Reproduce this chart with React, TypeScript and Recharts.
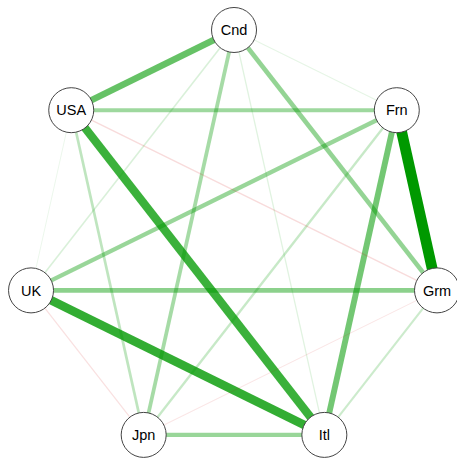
import * as React from 'react';
import { ScatterChart, Scatter, XAxis, YAxis } from 'recharts';

// node labels, in circle-layout order (clockwise from the top)
const nodes = ['Cnd', 'Frn', 'Grm', 'Itl', 'Jpn', 'UK', 'USA'];

// edge list: from, to, weight (negative = red)
const edgeFrom = ['Frn', 'UK', 'USA', 'USA', 'Frn', 'UK', 'Cnd', 'Frn', 'Jpn', 'USA', 'Cnd', 'USA', 'Frn', 'Grm', 'Cnd', 'Cnd', 'Cnd', 'USA', 'USA', 'UK', 'Jpn'];
const edgeTo = ['Grm', 'Itl', 'Itl', 'Cnd', 'Itl', 'Grm', 'Grm', 'UK', 'Itl', 'Frn', 'Jpn', 'Jpn', 'Jpn', 'Itl', 'UK', 'Itl', 'Frn', 'UK', 'Grm', 'Jpn', 'Grm'];
const edgeWeight = [1.0, 0.8, 0.77, 0.6, 0.55, 0.45, 0.42, 0.4, 0.4, 0.38, 0.35, 0.25, 0.22, 0.2, 0.15, 0.12, 0.1, 0.08, -0.14, -0.12, -0.1];

const POS_COLOR = '#009900';
const NEG_COLOR = '#cc0000';
const W = 457;
const H = 461;

// circle layout, first node on top
function layout(name: string) {
  const i = nodes.indexOf(name);
  const a = Math.PI / 2 - (2 * Math.PI * i) / nodes.length;
  return { x: Math.cos(a), y: Math.sin(a), name };
}

const nodeData = nodes.map(layout);

function NodeShape(props: any) {
  const { cx, cy, payload } = props;
  return (
    <g>
      <circle cx={cx} cy={cy} r={22.5} fill="#ffffff" stroke="#444444" strokeWidth={1} />
      <text
        x={cx}
        y={cy}
        dy="0.36em"
        textAnchor="middle"
        fontSize={14.5}
        fill="#000000"
        fontFamily="'Liberation Sans', Arial, sans-serif"
      >
        {payload.name}
      </text>
    </g>
  );
}

const noDot = () => <g />;

export default function App() {
  return (
    <div style={{ position: 'absolute', left: 0, top: 0, background: '#fff' }}>
      <ScatterChart width={W} height={H} margin={{ top: 0, right: 0, bottom: 0, left: 0 }}>
        <XAxis type="number" dataKey="x" domain={[-1.124, 1.071]} hide allowDataOverflow />
        <YAxis type="number" dataKey="y" domain={[-1.0235, 1.1408]} hide allowDataOverflow />
        {edgeFrom.map((from, i) => {
          const w = edgeWeight[i];
          const color = w < 0 ? NEG_COLOR : POS_COLOR;
          return (
            <Scatter
              key={`${from}-${edgeTo[i]}`}
              data={[layout(from), layout(edgeTo[i])]}
              line={{
                stroke: color,
                strokeWidth: Math.max(1, Math.abs(w) * 10.8),
                strokeOpacity: Math.abs(w),
              }}
              lineType="joint"
              shape={noDot}
              fill={color}
              isAnimationActive={false}
            />
          );
        })}
        <Scatter data={nodeData} shape={NodeShape} isAnimationActive={false} />
      </ScatterChart>
    </div>
  );
}
